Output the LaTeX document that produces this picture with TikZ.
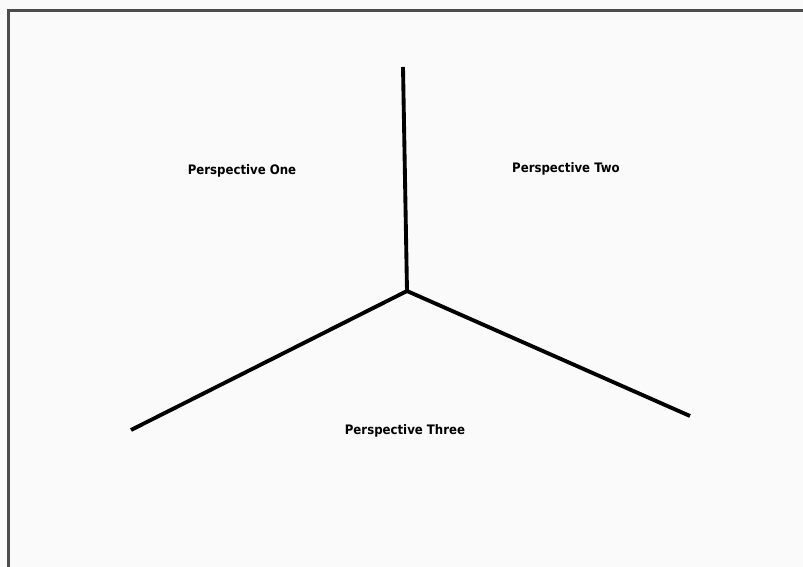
\documentclass[tikz,border=0pt]{standalone}
\usepackage{fontspec}
\newfontfamily\perspfont{DejaVu Sans Condensed}
\tikzset{
  spoke/.style={line width=2.9pt, black},
  persp/.style={font=\perspfont\bfseries\fontsize{9.8}{11}\selectfont, inner sep=0pt}
}
\begin{document}
\begin{tikzpicture}[x=0.75pt, y=-0.75pt]
        \useasboundingbox[fill=white!98!black] (0,0) rectangle (803,567);
        % Rahmen
        \draw[line width=1.6pt, black!70] (8.5,567) -- (8.5,10.5) -- (803,10.5);
        
        % Mittelpunkt und Enden
        \coordinate (hub) at (407,291);
        \coordinate (topend) at (403,67);
        \coordinate (leftend) at (131,430);
        \coordinate (rightend) at (690,416);
        
        % Speichen
        \draw[spoke] (hub) -- (topend);
        \draw[spoke] (hub) -- (leftend);
        \draw[spoke] (hub) -- (rightend);
        
        % Beschriftungen
        \node[persp] (one) at (242,171) {Perspective One};
        \node[persp] (two) at (566,169) {Perspective Two};
        \node[persp] (three) at (405,431) {Perspective Three};
    \end{tikzpicture}
\end{document}
